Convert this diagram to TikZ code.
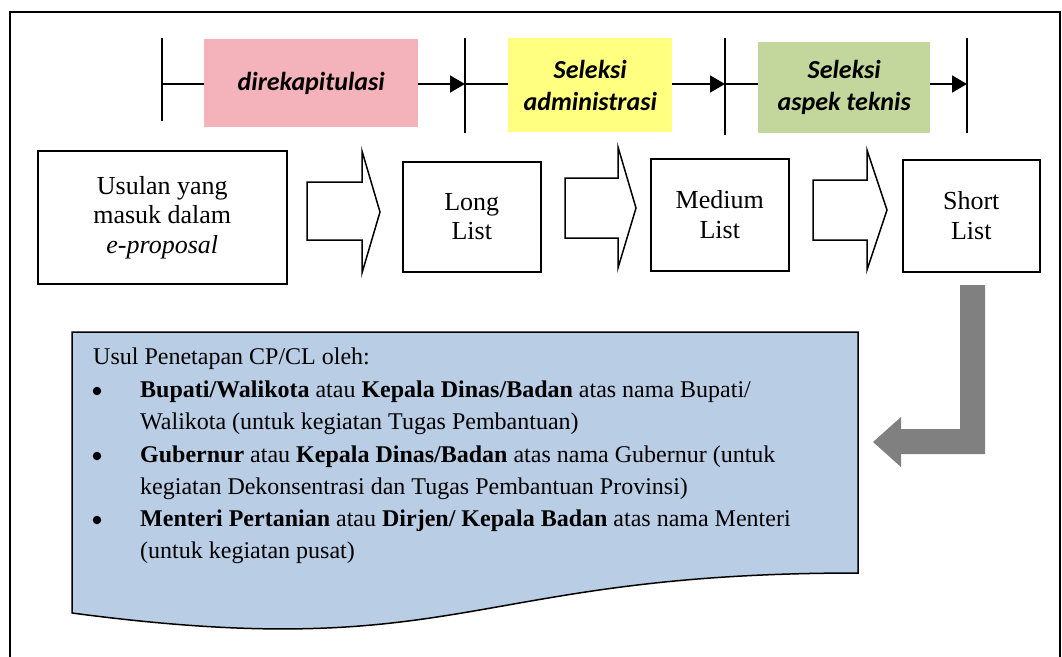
\documentclass[tikz,border=0pt]{standalone}
\usepackage{fontspec}
\setmainfont{Liberation Serif}
\newfontfamily\calibri{Carlito}
\usetikzlibrary{arrows.meta}
\definecolor{pinkfill}{RGB}{244,178,186}
\definecolor{yellowfill}{RGB}{255,255,128}
\definecolor{greenfill}{RGB}{195,214,155}
\definecolor{bluefill}{RGB}{185,205,229}
\definecolor{arrowgray}{RGB}{128,128,128}
\tikzset{
  listbox/.style={draw, line width=1.5pt, fill=white, align=center, inner sep=0pt,
    anchor=north west, font=\fontsize{26}{29.5}\selectfont},
  labelbox/.style={inner sep=0pt, align=center, anchor=north west,
    font=\calibri\bfseries\itshape\fontsize{26}{32}\selectfont},
  blockarrow/.style={draw, line width=1.5pt, fill=white, line join=miter},
  tick/.style={line width=1.5pt},
  flow/.style={line width=1.5pt},
  flowarrow/.style={line width=1.5pt, -{Triangle[length=15pt,width=17pt]}},
  txt/.style={inner sep=0pt, anchor=base west, font=\fontsize{24}{28}\selectfont},
  bul/.style={circle, fill=black, inner sep=0pt, minimum size=8.5pt},
}
\begin{document}
\begin{tikzpicture}[x=1pt,y=-1pt]
\useasboundingbox (0,0) rectangle (1062,656);
% outer frame
\draw[line width=2pt] (10,700) -- (10,12) -- (1060,12) -- (1060,700);

% timeline stage boxes
\node[labelbox, fill=pinkfill, minimum width=214pt, minimum height=88pt] (pink) at (204,39) {direkapitulasi};
\node[labelbox, fill=yellowfill, minimum width=164pt, minimum height=94pt] (yellow) at (508,38) {Seleksi\\administrasi};
\node[labelbox, fill=greenfill, minimum width=172pt, minimum height=91pt] (green) at (758,42) {Seleksi\\aspek teknis};

% ticks
\coordinate (t1a) at (162,38); \coordinate (t1b) at (162,121);
\coordinate (t2a) at (465,38); \coordinate (t2b) at (465,133);
\coordinate (t3a) at (725,38); \coordinate (t3b) at (725,135);
\coordinate (t4a) at (967,38); \coordinate (t4b) at (967,133);
\draw[tick] (t1a) -- (t1b);
\draw[tick] (t2a) -- (t2b);
\draw[tick] (t3a) -- (t3b);
\draw[tick] (t4a) -- (t4b);
\coordinate (h1) at (162,84);
\coordinate (h2) at (465,84);
\coordinate (h3) at (725,84);
\coordinate (h4) at (967,84);
\draw[flow] (h1) -- (h1 -| pink.west);
\draw[flowarrow] (h1 -| pink.east) -- (h2);
\draw[flow] (h2) -- (h2 -| yellow.west);
\draw[flowarrow] (h2 -| yellow.east) -- (h3);
\draw[flow] (h3) -- (h3 -| green.west);
\draw[flowarrow] (h3 -| green.east) -- (h4);

% list boxes
\node[listbox, minimum width=249pt, minimum height=133pt] (usulan) at (37,150) {Usulan yang\\masuk dalam\\\textit{e-proposal}};
\node[listbox, minimum width=138pt, minimum height=110pt] (long) at (402,161) {Long\\List};
\node[listbox, minimum width=138pt, minimum height=112pt] (medium) at (650,158) {Medium\\List};
\node[listbox, minimum width=137pt, minimum height=112pt] (short) at (902,159) {Short\\List};

% block arrows
\draw[blockarrow] (307,182) -- (362,182) -- (362,151) -- (380,212) -- (362,273) -- (362,240) -- (307,240) -- cycle;
\draw[blockarrow] (565,178) -- (618,178) -- (618,147) -- (636,208) -- (618,268) -- (618,238) -- (565,238) -- cycle;
\draw[blockarrow] (813,180) -- (867,180) -- (867,150) -- (887,210) -- (867,270) -- (867,240) -- (813,240) -- cycle;

% gray bent arrow
\fill[arrowgray] (960,285) -- (985,285) -- (985,454) -- (901,454) -- (901,467) -- (873,442) -- (901,417) -- (901,429) -- (960,429) -- cycle;

% document shape
\draw[line width=1.5pt, fill=bluefill, line join=miter] (72,332) -- (858,332) -- (858,573)
  .. controls (465,573) and (465,665) .. (72,613) -- cycle;

% document text
\node[txt] (l0) at (93,364) {Usul Penetapan CP/CL oleh:};
\node[bul] (b1) at (97,391) {};
\node[txt] (l1) at (140,397) {\textbf{Bupati/Walikota} atau \textbf{Kepala Dinas/Badan} atas nama Bupati/};
\node[txt] (l2) at (140,429) {Walikota (untuk kegiatan Tugas Pembantuan)};
\node[bul] (b2) at (97,456) {};
\node[txt] (l3) at (140,462) {\textbf{Gubernur} atau \textbf{Kepala Dinas/Badan} atas nama Gubernur (untuk};
\node[txt] (l4) at (140,494) {kegiatan Dekonsentrasi dan Tugas Pembantuan Provinsi)};
\node[bul] (b3) at (97,520) {};
\node[txt] (l5) at (140,526) {\textbf{Menteri Pertanian} atau \textbf{Dirjen/ Kepala Badan} atas nama Menteri};
\node[txt] (l6) at (140,558) {(untuk kegiatan pusat)};
\end{tikzpicture}
\end{document}
